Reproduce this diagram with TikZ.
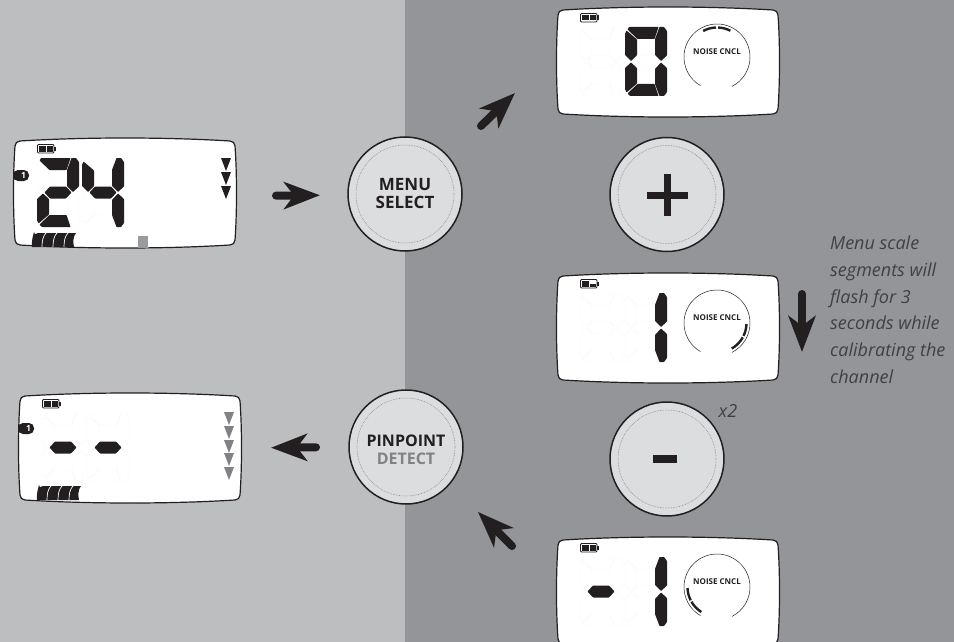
\documentclass[tikz,border=0pt]{standalone}
\usepackage{fontspec}
\setmainfont{Open Sans}
\usetikzlibrary{arrows.meta,positioning,calc}
\definecolor{panelleft}{RGB}{188,190,192}
\definecolor{panelright}{RGB}{147,149,152}
\definecolor{lcdink}{RGB}{35,31,32}
\definecolor{buttonface}{RGB}{220,221,222}
\definecolor{ringgray}{RGB}{128,130,133}
\definecolor{notegray}{RGB}{65,64,66}
\definecolor{faintgray}{RGB}{128,130,133}
\tikzset{
    lcdbox/.style={rectangle, minimum width=220pt, minimum height=110pt, inner sep=0pt, outer sep=0pt},
    lcdframe/.style={draw=lcdink, fill=white, line width=1.2pt},
    lcdon/.style={fill=lcdink, rounded corners=0.6pt},
    lcdghost/.style={draw=black!2.5, line width=0.4pt, rounded corners=1.2pt},
    buttonbase/.style={circle, draw=lcdink, fill=buttonface, line width=1.5pt, minimum size=114pt, inner sep=0pt, outer sep=0pt},
    buttonring/.style={draw=ringgray, line width=0.6pt, densely dotted},
    buttontext/.style={align=center, text=lcdink, font=\fontsize{16}{17.5}\selectfont\bfseries},
    flowarrow/.style={draw=lcdink, line width=8pt, line cap=round, -{Stealth[length=36pt, width=27pt, inset=10pt]}},
    notetext/.style={align=left, anchor=north west, inner sep=0pt, text=notegray, font=\fontsize{18}{26.7}\selectfont\itshape},
    noisetext/.style={text=lcdink, inner sep=0pt, font=\fontsize{8}{9}\selectfont\bfseries},
    % segments of one digit, 42 wide and 69 high
    segA/.style={insert path={(4,0) -- (33.5,0) -- (29.5,12) -- (12.5,12) -- (2.5,2.5) -- cycle}},
    segB/.style={insert path={(34.5,0) -- (39,0) -- (42,4) -- (42,28.5) -- (36,34) -- (30,28) -- (30,12) -- cycle}},
    segC/.style={insert path={(36,35.5) -- (42,41) -- (42,65) -- (39,69) -- (34.5,69) -- (30,57) -- (30,42) -- cycle}},
    segD/.style={insert path={(2.5,66.5) -- (12.5,57) -- (29.5,57) -- (33.5,69) -- (5,69) -- cycle}},
    segE/.style={insert path={(6,35.5) -- (12,41) -- (12,56.5) -- (1.5,65.5) -- (0,62) -- (0,41) -- cycle}},
    segF/.style={insert path={(1.5,3.5) -- (12,12.5) -- (12,28) -- (6,34) -- (0,28) -- (0,7) -- cycle}},
    segG/.style={insert path={(7.5,34.5) -- (13,28.5) -- (29,28.5) -- (34.5,34.5) -- (29,40.5) -- (13,40.5) -- cycle}},
}

% frame, battery and unlit digits of one screen, the option is the top of the second cell
\newcommand{\lcdscreen}[4][8]{
    \node[lcdbox] (#2) at (#3,#4) {};
    \begin{scope}[shift={(#2.north west)}]
        \draw[lcdframe] (5,3) .. controls (70,-1) and (150,-1) .. (215,3)
            .. controls (218,3.2) and (219.8,5) .. (220,8)
            .. controls (222,35) and (222,75) .. (220,102)
            .. controls (219.8,105) and (218,106.8) .. (215,107)
            .. controls (150,111) and (70,111) .. (5,107)
            .. controls (2,106.8) and (0.2,105) .. (0,102)
            .. controls (-2,75) and (-2,35) .. (0,8)
            .. controls (0.2,5) and (2,3.2) .. (5,3) -- cycle;
        \draw[lcdink, line width=0.8pt, rounded corners=1pt] (22.5,6.5) rectangle (39,15);
        \fill[lcdink] (39,8.5) rectangle (40.5,13);
        \fill[lcdink] (24,8) rectangle (30.5,13.5);
        \fill[lcdink] (31.5,#1) rectangle (38,13.5);
        \foreach \dx in {22,67} {
            \foreach \seg in {segA,segB,segC,segD,segE,segF,segG} {
                \draw[lcdghost, shift={(\dx,20)}, \seg];
            }
        }
    \end{scope}
}
% lit segments, digit origin given inside the screen
\newcommand{\lcddigit}[3]{
    \begin{scope}[shift={(#1.north west)}, shift={(#2,20)}]
        \foreach \seg in {#3} {
            \fill[lcdon, \seg];
        }
    \end{scope}
}
% dial with its label, the last argument lists the lit arcs
\newcommand{\lcdnoise}[2]{
    \begin{scope}[shift={(#1.north west)}]
        \draw[lcdink, line width=0.5pt] ($(159,50)+(120:33)$) arc (120:423:33);
        \node[noisetext] (#1noise) at (159,45) {NOISE CNCL};
        \foreach \a/\b in {#2} {
            \draw[lcdink, line width=2.4pt] ($(159,50)+(\a:29.5)$) arc (\a:\b:29.5);
        }
    \end{scope}
}
% channel tab and scale bars of the two left screens
\newcommand{\lcdchannel}[2]{
    \begin{scope}[shift={(#1.north west)}]
        \fill[lcdink, rounded corners=5pt] (-2,#2) rectangle (14,#2+11);
        \node[text=white, inner sep=0pt, font=\fontsize{8.5}{9}\selectfont\bfseries] (#1channel) at (8.5,#2+5.5) {1};
        \fill[lcdink] (19,#2+62) .. controls (20,#2+66) and (21,#2+63) .. (23,#2+63)
            -- (61,#2+63) .. controls (58,#2+66) and (58,#2+73) .. (59,#2+77) -- (17,#2+77)
            .. controls (16.5,#2+72) and (17.5,#2+67) .. (19,#2+62) -- cycle;
        \foreach \dx in {27,38,49} {
            \draw[white, line width=0.7pt] (\dx,#2+77) .. controls (\dx,#2+71) and (\dx+1,#2+66) .. (\dx+4,#2+63);
        }
    \end{scope}
}

\begin{document}
\begin{tikzpicture}[x=1pt, y=-1pt]
    \clip (0,0) rectangle (954,642);

    % Backgrounds
    \fill[panelleft] (0,0) rectangle (405,642);
    \fill[panelright] (405,0) rectangle (954,642);

    % Left screens
    \lcdscreen{lcdA}{125}{193}
    \lcddigit{lcdA}{22}{segA,segB,segG,segE,segD}
    \lcddigit{lcdA}{67}{segF,segB,segG,segC}
    \lcdchannel{lcdA}{32}
    \foreach \y in {158,172,186} {
        \fill[lcdink] (221,\y) -- (231,\y) -- (226,\y+13) -- cycle;
    }
    \fill[faintgray!80] (138,236) rectangle (148,248);

    \lcdscreen{lcdB}{130}{448}
    \lcddigit{lcdB}{22}{segG}
    \lcddigit{lcdB}{67}{segG}
    \lcdchannel{lcdB}{30}
    \foreach \y in {412,426,440,453,467} {
        \fill[faintgray] (224,\y) -- (234,\y) -- (229,\y+13) -- cycle;
    }

    % Right screens
    \lcdscreen{lcdC}{668}{62}
    \lcddigit{lcdC}{67}{segA,segB,segC,segD,segE,segF}
    \lcdnoise{lcdC}{242/268,272/297}

    \lcdscreen[10.5]{lcdD}{668}{328}
    \lcddigit{lcdD}{67}{segB,segC}
    \lcdnoise{lcdD}{2/26,29/60}

    \lcdscreen{lcdE}{668}{592}
    \lcddigit{lcdE}{22}{segG}
    \lcddigit{lcdE}{67}{segB,segC}
    \lcdnoise{lcdE}{122/150,153/178}

    % Buttons
    \node[buttonbase] (menu) at (405,194) {};
    \node[buttonbase] (pinpoint) at (406,447) {};
    \node[buttonbase] (plus) at (667,194.5) {};
    \node[buttonbase] (minus) at (667,459) {};
    \foreach \btn in {menu,pinpoint,plus,minus} {
        \draw[buttonring] (\btn) circle (49);
    }
    \node[buttontext, font=\fontsize{17}{18}\selectfont\bfseries] (menulabel) at (405,194) {MENU\\SELECT};
    \node[buttontext] (pinpointlabel) at (406,450) {PINPOINT\\\textcolor{faintgray}{DETECT}};
    \fill[lcdink] (647,191.5) rectangle (688,198.5);
    \fill[lcdink] (664,174) rectangle (671,216);
    \fill[lcdink] (653,455) rectangle (677,463);

    % Arrows
    \coordinate (tipup) at (515,93);
    \coordinate (tipdownstart) at (802,294);
    \coordinate (tipdown) at (802,352);
    \draw[flowarrow, shorten <=41pt, shorten >=28pt] ([yshift=-3pt]lcdA.east) -- ([yshift=-1pt]menu.west);
    \draw[flowarrow, shorten <=45pt] (menu.40) -- (tipup);
    \draw[flowarrow] (tipdownstart) -- (tipdown);
    \draw[flowarrow, shorten <=65pt, shorten >=40pt] (lcdE.west) -- (pinpoint.-40);
    \draw[flowarrow, shorten <=33pt, shorten >=31pt] (pinpoint.west) -- (lcdB.east);

    % Notes
    \node[text=notegray, inner sep=0pt, font=\fontsize{18}{19}\selectfont\itshape] (repeat) at (728,411) {x2};
    \node[notetext] (note) at (830,236) {Menu scale\\segments will\\flash for 3\\seconds while\\calibrating the\\channel};
\end{tikzpicture}
\end{document}
